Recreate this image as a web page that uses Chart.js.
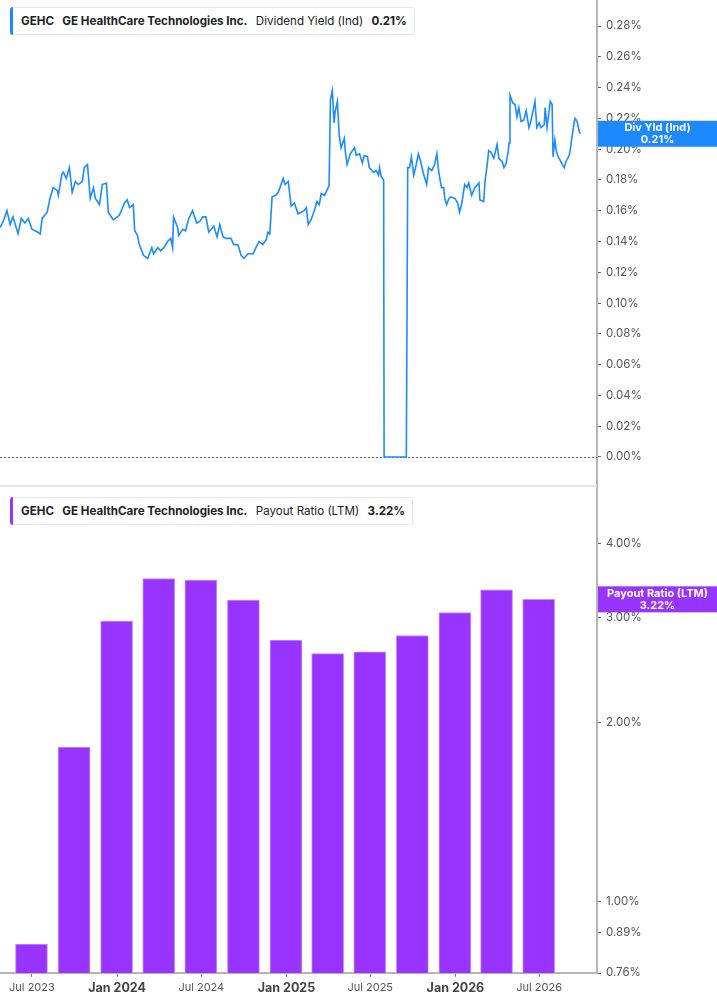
<!DOCTYPE html>
<html>
<head>
<meta charset="utf-8">
<script src="https://cdn.jsdelivr.net/npm/chart.js@4.4.1/dist/chart.umd.min.js"></script>
<style>
  body { margin: 0; background: #fff; font-family: Inter, "Noto Sans", sans-serif; }
  #wrap { position: relative; width: 717px; height: 1005px; overflow: hidden; }
  .pane { position: absolute; left: 0; width: 717px; }
  #top { top: 0; height: 487px; }
  #bottom { top: 487px; height: 518px; }
  .legend {
    position: absolute; left: 10px; height: 26px; line-height: 26px;
    background: #fff; border: 1px solid #e6e6e6; border-radius: 3px;
    font-size: 11.6px; color: #222; padding: 0 7px 0 10px; white-space: nowrap; z-index: 2;
  }
  .legend::before {
    content: ''; position: absolute; left: -1px; top: -1px; bottom: -1px; width: 3px;
    border-radius: 3px 0 0 3px; background: var(--c);
  }
  .legend span { margin-right: 5px; }
  .legend span:last-child { margin-right: 0; }
  .legend .b { font-weight: 700; }
  .sep { position: absolute; left: 0; top: 485px; width: 597px; height: 2px; background: #e3e3e3; z-index: 1; }
</style>
</head>
<body>
<div id="wrap">
  <div class="pane" id="top"><canvas id="yieldChart"></canvas></div>
  <div class="pane" id="bottom"><canvas id="payoutChart"></canvas></div>
  <div class="sep"></div>
  <div class="legend" style="top:7px; --c:#1e88ff">
    <span class="b">GEHC</span> <span class="b">GE HealthCare Technologies Inc.</span> <span>Dividend Yield (Ind)</span> <span class="b">0.21%</span>
  </div>
  <div class="legend" style="top:497px; --c:#9933ff">
    <span class="b">GEHC</span> <span class="b">GE HealthCare Technologies Inc.</span> <span>Payout Ratio (LTM)</span> <span class="b">3.22%</span>
  </div>
</div>
<script>
// day 0 of the shared x axis
const startDate = '2023-04-23';

// dividend yield (%), days counted from startDate
const yieldDays = [0,7,15,22,28,39,46,54,61,69,82,87,91,102,108,115,124,126,134,137,143,150,156,163,169,178,182,189,195,202,206,215,221,230,234,245,258,269,275,280,288,291,297,301,310,319,328,332,341,347,354,362,369,373,375,384,386,395,401,408,416,425,432,438,445,451,462,469,475,482,488,499,505,514,521,527,536,547,553,560,568,575,579,583,588,596,601,605,612,616,623,629,636,644,651,657,662,666,672,679,685,690,694,701,709,711,714,718,722,724,729,733,737,744,746,750,757,766,770,777,783,787,794,798,807,813,818,820,824,829,830,878,881,885,889,894,898,904,909,915,922,926,933,939,944,948,954,959,961,965,970,974,983,989,993,998,1004,1009,1013,1019,1026,1035,1037,1045,1048,1052,1056,1061,1067,1074,1078,1085,1089,1093,1098,1100,1102,1108,1113,1117,1121,1126,1132,1137,1143,1147,1156,1160,1165,1169,1176,1178,1182,1189,1193,1195,1199,1202,1206,1210,1215,1219,1223,1230,1232,1236,1241,1243,1247,1252,1254];
const yieldValues = [0.149,0.153,0.160,0.151,0.156,0.145,0.155,0.152,0.155,0.148,0.146,0.145,0.155,0.159,0.168,0.175,0.173,0.170,0.184,0.185,0.181,0.188,0.172,0.179,0.177,0.179,0.188,0.190,0.168,0.175,0.168,0.164,0.177,0.178,0.159,0.154,0.157,0.165,0.167,0.162,0.164,0.147,0.144,0.138,0.131,0.129,0.136,0.132,0.136,0.134,0.136,0.140,0.142,0.136,0.156,0.149,0.144,0.148,0.147,0.155,0.160,0.152,0.153,0.156,0.156,0.146,0.150,0.143,0.151,0.143,0.142,0.142,0.138,0.138,0.131,0.129,0.132,0.132,0.136,0.140,0.138,0.141,0.146,0.145,0.169,0.170,0.172,0.175,0.181,0.177,0.179,0.163,0.165,0.158,0.159,0.160,0.162,0.151,0.154,0.160,0.166,0.164,0.171,0.170,0.175,0.176,0.232,0.238,0.217,0.224,0.231,0.209,0.201,0.207,0.199,0.190,0.197,0.201,0.196,0.197,0.191,0.196,0.195,0.188,0.185,0.186,0.183,0.188,0.182,0.180,0,0,0.188,0.188,0.195,0.183,0.188,0.197,0.192,0.184,0.177,0.188,0.186,0.190,0.197,0.185,0.175,0.175,0.168,0.164,0.168,0.169,0.168,0.165,0.159,0.165,0.177,0.175,0.178,0.170,0.175,0.178,0.167,0.166,0.179,0.188,0.199,0.198,0.194,0.203,0.194,0.192,0.188,0.190,0.198,0.204,0.235,0.230,0.229,0.221,0.227,0.218,0.219,0.225,0.214,0.218,0.231,0.214,0.217,0.214,0.216,0.227,0.214,0.231,0.229,0.195,0.206,0.199,0.195,0.193,0.190,0.188,0.192,0.196,0.199,0.208,0.218,0.220,0.218,0.211,0.210];

// payout ratio (LTM, %), quarter ends
const payoutDates = ['2023-06-30','2023-09-30','2023-12-31','2024-03-31','2024-06-30','2024-09-30','2024-12-31','2025-03-31','2025-06-30','2025-09-30','2025-12-31','2026-03-31','2026-06-30'];
const payoutValues = [0.85,1.82,2.96,3.49,3.47,3.21,2.75,2.61,2.63,2.80,3.06,3.34,3.22];

// axis ticks
const axisDates = ['2023-07-01','2024-01-01','2024-07-01','2025-01-01','2025-07-01','2026-01-01','2026-07-01'];
const axisLabels = ['Jul 2023','Jan 2024','Jul 2024','Jan 2025','Jul 2025','Jan 2026','Jul 2026'];
const yieldTicks = [0,0.02,0.04,0.06,0.08,0.10,0.12,0.14,0.16,0.18,0.20,0.22,0.24,0.26,0.28];
const payoutTicks = [0.76,0.89,1,2,3,4];

const dayOf = s => Math.round((Date.parse(s) - Date.parse(startDate)) / 86400000);
const X_MAX = 1290;
const AXIS_W = 120;

// keep the plot area flush with the canvas edges
function fitAxis(size) {
    return s => {
        if (s.isHorizontal()) s.height = size; else s.width = size;
        s.paddingTop = 0; s.paddingBottom = 0; s.paddingLeft = 0; s.paddingRight = 0;
    };
}
const isJan = c => (axisLabels[c.index] || '').startsWith('Jan');

// dotted line at zero
const zeroLine = {
    id: 'zeroLine',
    beforeDatasetsDraw(chart) {
        const { ctx, chartArea, scales } = chart;
        const y = Math.round(scales.y.getPixelForValue(0)) + 0.5;
        ctx.save();
        ctx.strokeStyle = '#666';
        ctx.lineWidth = 1;
        ctx.setLineDash([2, 2]);
        ctx.beginPath();
        ctx.moveTo(chartArea.left, y);
        ctx.lineTo(chartArea.right, y);
        ctx.stroke();
        ctx.restore();
    }
};

// coloured box with the last value on the right axis
function lastValueTag(color, title) {
    return {
        id: 'tag',
        afterDraw(chart) {
            const { ctx, scales } = chart;
            const data = chart.data.datasets[0].data;
            const last = data[data.length - 1].y;
            const py = scales.y.getPixelForValue(last);
            const left = scales.y.left + 1;
            const w = chart.width - left;
            ctx.save();
            ctx.fillStyle = color;
            ctx.fillRect(left, py - 13, w, 26);
            ctx.fillStyle = '#fff';
            ctx.textAlign = 'center';
            ctx.textBaseline = 'middle';
            ctx.font = 'bold 11px Inter';
            ctx.fillText(title, left + w / 2, py - 6);
            ctx.fillText(last.toFixed(2) + '%', left + w / 2, py + 6);
            ctx.restore();
        }
    };
}

const tickFont = { family: 'Inter', size: 11.5 };

new Chart(document.getElementById('yieldChart'), {
    type: 'line',
    data: {
        datasets: [{
            data: yieldDays.map((d, i) => ({ x: d, y: yieldValues[i] })),
            borderColor: '#1a8cff',
            borderWidth: 1.6,
            pointRadius: 0,
            tension: 0
        }]
    },
    options: {
        animation: false,
        responsive: true,
        maintainAspectRatio: false,
        layout: { padding: 0 },
        plugins: { legend: { display: false }, tooltip: { enabled: false } },
        scales: {
            x: { type: 'linear', min: 0, max: X_MAX, display: false },
            y: {
                position: 'right',
                min: -0.0195,
                max: 0.2969,
                afterBuildTicks: s => { s.ticks = yieldTicks.map(v => ({ value: v })); },
                afterFit: fitAxis(AXIS_W),
                ticks: { callback: v => v.toFixed(2) + '%', color: '#555', font: tickFont, padding: 5 },
                grid: { drawOnChartArea: false, tickLength: 4, color: '#666' },
                border: { color: '#b5b5b5', width: 2 }
            }
        }
    },
    plugins: [zeroLine, lastValueTag('#1e88ff', 'Div Yld (Ind)')]
});

new Chart(document.getElementById('payoutChart'), {
    type: 'bar',
    data: {
        datasets: [{
            data: payoutDates.map((d, i) => ({ x: dayOf(d), y: payoutValues[i] })),
            backgroundColor: '#9933ff',
            borderColor: '#c291ff',
            borderWidth: 1,
            borderSkipped: 'bottom',
            barThickness: 32
        }]
    },
    options: {
        animation: false,
        responsive: true,
        maintainAspectRatio: false,
        layout: { padding: 0 },
        plugins: { legend: { display: false }, tooltip: { enabled: false } },
        scales: {
            x: {
                type: 'linear',
                offset: false,
                min: 0,
                max: X_MAX,
                afterBuildTicks: s => { s.ticks = axisDates.map(d => ({ value: dayOf(d) })); },
                afterFit: fitAxis(32),
                ticks: {
                    autoSkip: false,
                    maxRotation: 0,
                    padding: 4,
                    callback: (v, i) => axisLabels[i],
                    color: c => isJan(c) ? '#444' : '#555',
                    font: c => isJan(c)
                        ? { family: 'Inter', size: 12.5, weight: 'bold' }
                        : { family: 'Inter', size: 11 }
                },
                grid: { offset: false, drawOnChartArea: false, tickLength: 4, color: '#888' },
                border: { color: '#b5b5b5', width: 2 }
            },
            y: {
                type: 'logarithmic',
                position: 'right',
                min: 0.76,
                max: 4.97,
                afterBuildTicks: s => { s.ticks = payoutTicks.map(v => ({ value: v })); },
                afterFit: fitAxis(AXIS_W),
                ticks: { callback: v => Number(v).toFixed(2) + '%', color: '#555', font: tickFont, padding: 5 },
                grid: { drawOnChartArea: false, tickLength: 4, color: '#666' },
                border: { color: '#b5b5b5', width: 2 }
            }
        }
    },
    plugins: [lastValueTag('#9933ff', 'Payout Ratio (LTM)')]
});
</script>
</body>
</html>
